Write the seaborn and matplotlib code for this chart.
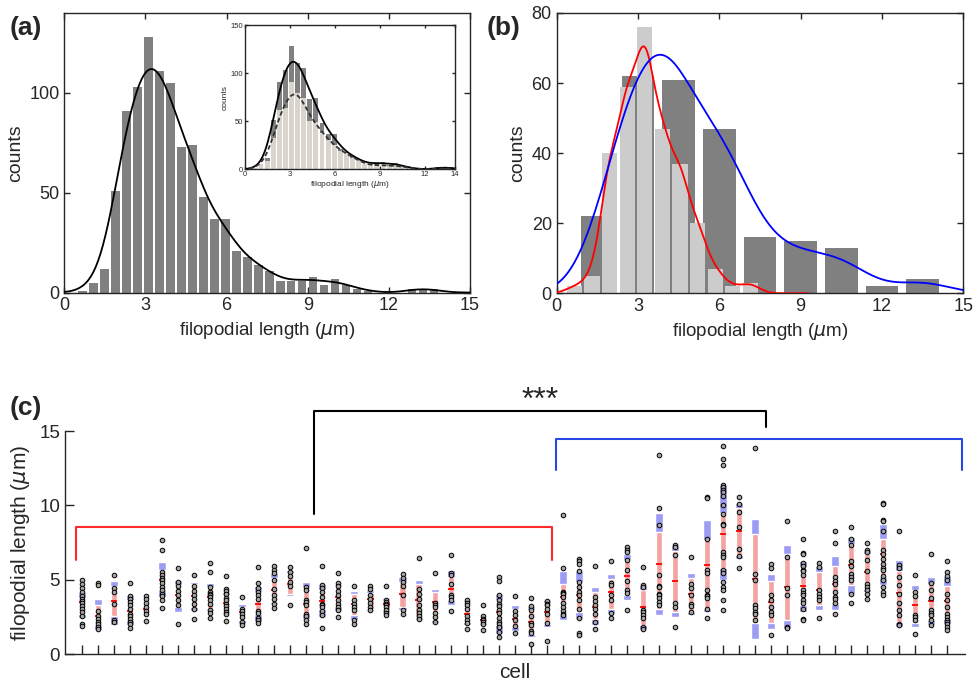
import numpy as np
import pandas as pd
import matplotlib.pyplot as plt
import seaborn as sns

sns.set_style("ticks")
plt.rcParams['font.family'] = ['Liberation Sans', 'DejaVu Sans']
plt.rcParams['mathtext.fontset'] = 'dejavusans'

# %%
# (a) histogram of all filopodia, bin width ~0.41 um
a_bin_start = 0.457
a_bin_width = 0.4066
a_all = [1, 5, 12, 51, 91, 103, 128, 111, 105, 73, 74, 48, 37, 37, 21, 18, 14,
         11, 6, 6, 6, 8, 4, 7, 4, 2, 1, 0, 0, 0, 2, 2, 2]
a_sub = [1, 5, 9, 33, 62, 64, 91, 79, 74, 50, 49, 38, 31, 25, 19, 17, 12,
         10, 5, 4, 4, 5, 3, 4, 3, 2, 1, 0, 0, 0, 1, 1, 1]

# (b) two groups, different bin widths
b_grp2_centers = [1.5, 3.0, 4.5, 6.0, 7.5, 9.0, 10.5, 12.0, 13.5]
b_grp2_counts = [22, 62, 61, 47, 16, 15, 13, 2, 4]
b_grp1_centers = [0.65, 1.3, 1.95, 2.6, 3.25, 3.9, 4.55, 5.2, 5.85, 6.5, 7.15]
b_grp1_counts = [2, 5, 40, 59, 76, 47, 37, 20, 7, 2, 3]

# (c) per-cell filopodial lengths (cells 0-29 group 1, 30-54 group 2)
cell_points = [
    [4.95, 4.7, 4.45, 4.2, 3.9, 3.7, 3.55, 3.4, 3.2, 3.0, 2.8, 2.55, 2.0, 1.9],
    [4.78, 4.65, 2.9, 2.53, 2.37, 2.15, 2.03, 1.85, 1.7],
    [5.29, 4.42, 4.2, 3.37, 2.3, 2.15],
    [4.78, 3.88, 3.72, 3.5, 3.27, 3.05, 2.71, 2.55, 2.37, 2.15, 2.03, 1.76],
    [3.9, 3.67, 3.45, 3.16, 2.89, 2.67, 2.19],
    [7.65, 7.02, 5.51, 5.29, 5.13, 4.96, 4.78, 4.51, 4.28, 4.01, 3.88, 3.65, 3.11],
    [5.76, 4.84, 4.55, 4.24, 3.94, 3.65, 3.31, 1.99],
    [5.31, 4.55, 4.21, 3.94, 3.67, 3.38, 3.05, 2.39],
    [6.12, 5.49, 4.51, 4.17, 4.06, 3.94, 3.83, 3.61, 3.34, 2.98, 2.78, 2.42],
    [5.25, 4.39, 4.24, 4.01, 3.79, 3.61, 3.38, 3.22, 3.05, 2.82, 2.71, 2.22],
    [3.83, 3.05, 2.89, 2.71, 2.48, 2.15, 1.92],
    [5.85, 4.78, 4.44, 4.17, 3.99, 3.72, 2.89, 2.76, 2.42, 2.26, 2.08],
    [5.9, 5.67, 5.45, 5.0, 4.39, 3.99, 3.72, 3.38, 3.09],
    [5.85, 5.51, 5.22, 4.84, 4.55, 3.31],
    [7.13, 4.51, 4.33, 3.65, 3.49, 3.27, 2.71, 2.53, 2.26, 2.03],
    [5.9, 4.66, 4.44, 4.17, 3.83, 3.38, 3.27, 3.16, 2.89, 2.6, 1.76],
    [5.47, 4.78, 4.55, 4.24, 3.94, 3.61, 3.38, 3.16, 2.93, 2.48],
    [4.55, 3.61, 3.38, 3.16, 2.93, 2.3, 2.03],
    [4.57, 4.35, 3.94, 3.67, 3.43, 3.16, 2.98],
    [4.57, 3.65, 3.49, 3.38, 3.27, 3.16, 2.93, 2.76, 2.6],
    [5.36, 5.13, 4.84, 4.57, 3.94, 2.93, 2.67],
    [6.44, 4.39, 4.01, 3.72, 3.27, 2.98, 2.76, 2.53, 2.37],
    [5.45, 3.43, 3.31, 3.16, 2.76, 2.48, 2.15],
    [6.64, 5.45, 5.29, 4.73, 3.94, 3.83, 3.61, 2.89],
    [3.61, 3.43, 3.27, 3.05, 2.53, 2.26, 2.1, 1.7],
    [3.27, 2.53, 2.37, 2.26, 2.15, 2.03, 1.65],
    [5.2, 4.93, 3.94, 3.61, 3.38, 3.22, 2.93, 2.76, 2.42, 2.15, 1.99, 1.81, 1.47, 1.13],
    [3.88, 2.89, 2.6, 2.3, 1.88, 1.4],
    [3.76, 3.22, 2.93, 2.53, 2.08, 1.92, 1.52, 1.4, 0.69],
    [3.54, 3.38, 3.27, 3.05, 2.71, 2.08, 0.91],
    [9.38, 5.76, 4.17, 4.1, 4.01, 3.83, 3.43, 3.16, 2.89, 2.71, 2.6],
    [6.42, 6.26, 6.08, 5.56, 4.84, 4.51, 4.17, 3.94, 3.65, 3.05, 2.44, 1.4, 1.25],
    [5.9, 3.83, 3.54, 3.27, 3.05, 2.67, 2.15, 1.7],
    [6.24, 4.78, 4.66, 3.94, 3.65, 2.75, 2.42],
    [7.2, 7.02, 6.87, 6.3, 5.67, 4.91, 4.28, 4.12, 2.93],
    [5.85, 4.62, 4.51, 2.98, 2.82, 2.64, 2.42, 1.81, 1.7],
    [13.4, 9.79, 8.71, 5.29, 4.55, 4.51, 4.06, 3.94, 3.76, 3.49, 3.27],
    [7.31, 7.2, 6.64, 3.43, 3.16, 1.85],
    [6.53, 4.73, 4.46, 3.94, 3.38, 3.2, 2.82],
    [10.57, 10.5, 7.76, 5.63, 5.47, 4.28, 3.99, 3.9, 3.79, 3.0, 2.42],
    [14.0, 13.15, 12.7, 11.36, 11.25, 11.0, 10.9, 10.6, 10.0, 9.45, 8.73, 8.66,
     6.87, 6.64, 6.53, 5.63, 5.44, 4.84, 4.51, 4.28, 3.61, 2.93],
    [10.57, 10.08, 9.56, 8.55, 7.09, 6.57, 5.81],
    [13.84, 5.4, 4.96, 3.27, 3.09, 2.82, 2.71, 2.26],
    [6.08, 5.81, 3.94, 3.61, 3.16, 2.82, 2.6, 1.31],
    [8.96, 6.53, 4.46, 3.94, 1.81, 1.74],
    [7.76, 6.8, 6.71, 6.12, 5.9, 5.67, 5.58, 5.29, 4.28, 4.1, 3.94, 3.65, 3.43, 3.04, 2.37, 2.26],
    [6.12, 5.85, 4.28, 4.01, 3.83, 3.65, 2.42],
    [8.28, 7.47, 5.18, 4.91, 4.73, 4.17, 3.83, 3.72, 3.43, 2.71],
    [8.55, 7.76, 7.31, 6.24, 5.9, 5.36, 5.18, 5.0, 4.06, 3.45],
    [7.49, 6.98, 6.87, 6.3, 5.58, 4.73, 4.51, 4.28, 4.06, 3.72],
    [10.17, 10.12, 9.04, 8.96, 8.28, 7.02, 6.71, 6.42, 6.08, 5.81, 5.67, 5.22, 5.0, 4.51, 4.17, 3.94],
    [8.28, 5.97, 5.81, 5.18, 4.66, 4.06, 3.43, 2.98, 2.6, 2.03, 1.92],
    [5.29, 4.17, 3.88, 2.6, 2.48, 2.3, 1.36],
    [6.75, 4.78, 4.28, 3.79, 2.98, 2.75, 2.6, 2.3, 1.92],
    [6.24, 5.51, 5.22, 5.0, 4.06, 3.61, 3.16, 2.66, 2.48, 2.3, 2.15, 1.99, 1.81, 1.63],
]
n_group1 = 30
outer_lo = [2.4, 1.63, 1.97, 1.92, 2.53, 3.83, 2.82, 2.89, 2.89, 2.6, 2.03, 2.15, 3.38, 3.88,
            2.37, 2.48, 2.89, 2.26, 2.89, 2.76, 2.93, 2.3, 2.08, 3.27, 1.92, 1.92, 1.36, 1.58,
            1.13, 1.85, 2.26, 2.37, 1.92, 2.71, 3.61, 1.63, 2.6, 2.48, 2.64, 2.82, 4.95, 6.41,
            1.02, 1.7, 1.7, 2.82, 2.93, 2.98, 4.06, 4.17, 4.62, 1.81, 1.81, 1.92, 1.99]
outer_hi = [4.2, 3.72, 4.89, 3.94, 3.65, 6.19, 5.0, 4.84, 4.8, 4.17, 3.34, 4.57, 5.45, 5.63,
            4.84, 4.73, 4.73, 4.24, 4.28, 3.76, 5.18, 5.0, 4.39, 5.63, 3.65, 2.76, 4.01, 3.27,
            3.2, 3.61, 5.56, 5.56, 4.51, 5.36, 6.75, 4.67, 9.49, 7.31, 5.44, 9.04, 11.4, 10.17,
            9.11, 5.36, 7.36, 6.24, 5.9, 6.57, 7.88, 6.98, 8.78, 6.3, 4.67, 5.18, 5.22]
inner_lo = [2.7, 1.95, 2.55, 2.26, 2.6, 4.28, 3.16, 3.16, 3.05, 2.71, 2.26, 2.71, 3.49, 4.06,
            2.71, 3.05, 3.16, 2.6, 3.05, 2.98, 3.16, 2.48, 2.26, 3.61, 2.15, 2.08, 1.92, 1.81,
            1.36, 2.03, 2.6, 2.82, 2.37, 3.04, 3.94, 1.92, 3.04, 2.82, 2.82, 3.05, 5.8, 6.64,
            2.08, 2.08, 2.26, 3.27, 3.27, 3.38, 4.62, 4.39, 5.18, 2.15, 2.08, 2.26, 2.37]
inner_hi = [3.8, 3.3, 4.57, 3.61, 3.56, 5.63, 4.62, 4.69, 4.51, 3.94, 3.16, 4.17, 5.13, 5.45,
            4.51, 4.33, 4.55, 4.06, 4.1, 3.65, 4.84, 4.73, 4.17, 5.18, 3.49, 2.67, 3.65, 3.05,
            2.93, 3.43, 4.73, 4.84, 4.17, 5.07, 6.35, 4.28, 8.21, 6.93, 5.13, 7.7, 9.5, 9.79,
            8.06, 4.91, 6.75, 5.85, 5.51, 5.9, 7.42, 6.71, 7.76, 5.58, 4.33, 4.73, 4.55]
medians = [3.5, 2.55, 3.56, 2.89, 3.05, 4.96, 4.0, 3.88, 3.83, 3.45, 2.82, 3.38, 4.33, 4.7,
           3.38, 3.56, 3.83, 3.38, 3.72, 3.34, 4.01, 3.61, 3.5, 4.39, 2.67, 2.26, 2.82, 2.37,
           2.15, 2.82, 3.83, 3.94, 3.16, 4.2, 5.22, 3.16, 6.08, 4.91, 4.06, 5.97, 8.1, 8.28,
           5.07, 3.49, 4.5, 4.55, 4.33, 4.73, 5.97, 5.51, 6.71, 4.12, 3.27, 3.54, 3.56]

# %%
dark = '#808080'
light_b = '#cccccc'
light_inset = '#d9d5cc'


def style_last_line(ax, color, ls='-'):
    ln = ax.lines[-1]
    ln.set_color(color)
    ln.set_linestyle(ls)
    ln.set_linewidth(1.3)
    ln.set_zorder(5)


def hist(ax, centers, counts, edges, color, shrink, kde=False, bw=1.0, line_color='k',
         ls='-', cut=3):
    d = pd.DataFrame({'x': np.asarray(centers, float), 'w': np.asarray(counts, float)})
    sns.histplot(data=d, x='x', weights='w', bins=list(edges), kde=kde, color=color,
                 alpha=1, linewidth=0, shrink=shrink, ax=ax,
                 kde_kws=dict(bw_adjust=bw, cut=cut))
    if kde:
        style_last_line(ax, line_color, ls)


def box_axes(ax, fs):
    for s in ax.spines.values():
        s.set_linewidth(1.0)
    ax.tick_params(direction='in', top=True, right=True, length=4, width=1,
                   labelsize=fs)


fig = plt.figure(figsize=(9.75, 6.82), dpi=100)

a_edges = a_bin_start + a_bin_width * np.arange(len(a_all) + 1)
a_centers = a_edges[:-1] + a_bin_width / 2

# (a)
ax_a = fig.add_axes([0.066, 0.571, 0.416, 0.410])
hist(ax_a, a_centers, a_all, a_edges, dark, 0.8, True, 0.4, 'black')
ax_a.set_xlim(0, 15)
ax_a.set_ylim(0, 140)
ax_a.set_xticks([0, 3, 6, 9, 12, 15])
ax_a.set_yticks([0, 50, 100])
box_axes(ax_a, 13)
ax_a.set_xlabel(r'filopodial length ($\mu$m)', fontsize=13.5)
ax_a.set_ylabel('counts', fontsize=14, labelpad=4)

# inset
ax_i = fig.add_axes([0.2513, 0.7518, 0.2154, 0.2112])
hist(ax_i, a_centers, a_all, a_edges, dark, 0.8, True, 0.4, 'black')
hist(ax_i, a_centers, a_sub, a_edges, light_inset, 0.8, True, 0.4, '#333333', ls=(0, (2.5, 1.5)))
ax_i.set_xlim(0, 14)
ax_i.set_ylim(0, 150)
ax_i.set_xticks([0, 3, 6, 9, 12, 14])
ax_i.set_yticks([0, 50, 100, 150])
box_axes(ax_i, 5.5)
ax_i.tick_params(length=2.5, pad=1.5)
ax_i.set_xlabel(r'filopodial length ($\mu$m)', fontsize=6, labelpad=0.5)
ax_i.set_ylabel('counts', fontsize=6, labelpad=1)

# (b)
ax_b = fig.add_axes([0.571, 0.570, 0.417, 0.411])
b2_edges = np.append(np.array(b_grp2_centers) - 0.75, b_grp2_centers[-1] + 0.75)
b1_edges = np.append(np.array(b_grp1_centers) - 0.325, b_grp1_centers[-1] + 0.325)
hist(ax_b, b_grp2_centers, b_grp2_counts, b2_edges, dark, 0.8)
hist(ax_b, b_grp1_centers, b_grp1_counts, b1_edges, light_b, 0.86, True, 0.4, 'red', cut=4)
# blue curve: density of the group-2 cell lengths of panel (c)
grp2 = np.concatenate(cell_points[n_group1:])
sns.histplot(x=grp2, bins=list(b2_edges), kde=True, alpha=0, linewidth=0, ax=ax_b,
             kde_kws=dict(bw_adjust=1.1, cut=3))
style_last_line(ax_b, 'blue')
ax_b.set_xlim(0, 15)
ax_b.set_ylim(0, 80)
ax_b.set_xticks([0, 3, 6, 9, 12, 15])
ax_b.set_yticks([0, 20, 40, 60, 80])
box_axes(ax_b, 13)
ax_b.set_xlabel(r'filopodial length ($\mu$m)', fontsize=13.5)
ax_b.set_ylabel('counts', fontsize=14, labelpad=4)

# (c)
ax_c = fig.add_axes([0.0667, 0.041, 0.923, 0.327])
cells = np.arange(len(cell_points))
df = pd.DataFrame({
    'cell': np.concatenate([[i] * len(p) for i, p in enumerate(cell_points)]),
    'length': np.concatenate(cell_points),
})
lo_o, hi_o = np.array(outer_lo), np.array(outer_hi)
lo_i, hi_i = np.array(inner_lo), np.array(inner_hi)
ax_c.bar(cells, hi_o - lo_o, bottom=lo_o, width=0.5, color='#9c9cf4', zorder=1)
ax_c.bar(cells, hi_i - lo_i, bottom=lo_i, width=0.38, color='#f4a2a2', zorder=2)
ax_c.hlines(medians, cells - 0.19, cells + 0.19, color='red', lw=1.3, zorder=2.5)
sns.stripplot(data=df, x='cell', y='length', native_scale=True, jitter=False,
              color='#a6a6a6', edgecolor='black', linewidth=0.7, size=3.3,
              ax=ax_c, zorder=3)
ax_c.set_xlim(-1.06, 55.1)
ax_c.set_ylim(0, 15)
ax_c.set_xticks(cells)
ax_c.set_xticklabels([])
ax_c.set_yticks([0, 5, 10, 15])
sns.despine(ax=ax_c)
for s in ax_c.spines.values():
    s.set_linewidth(1.0)
ax_c.tick_params(direction='in', length=6.5, width=1, labelsize=13.5)
ax_c.set_xlabel('cell', fontsize=15, labelpad=3)
ax_c.set_ylabel(r'filopodial length ($\mu$m)', fontsize=15, labelpad=5)

# brackets
ax_c.plot([-0.37, -0.37, 29.34, 29.34], [6.35, 8.53, 8.53, 6.35], color='#ff2a2a', lw=1.5, clip_on=False)
ax_c.plot([29.61, 29.61, 54.94, 54.94], [12.37, 14.44, 14.44, 12.37], color='#2a48e8', lw=1.5, clip_on=False)
ax_c.plot([14.45, 14.45, 42.67, 42.67], [9.39, 16.35, 16.35, 15.25], color='black', lw=1.5, clip_on=False)
ax_c.text(28.6, 16.0, '***', fontsize=23, ha='center', va='bottom')

fig.text(0.010, 0.977, '(a)', fontsize=19, fontweight='bold', va='top')
fig.text(0.499, 0.977, '(b)', fontsize=19, fontweight='bold', va='top')
fig.text(0.010, 0.420, '(c)', fontsize=19, fontweight='bold', va='top')

fig.savefig('out.png', dpi=100)
